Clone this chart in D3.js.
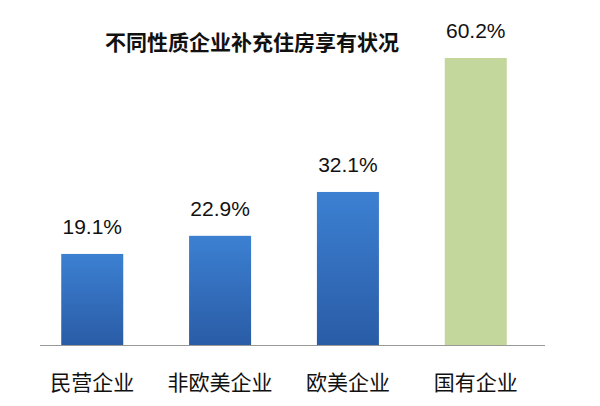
<!DOCTYPE html><html><head><meta charset="utf-8"><script src="https://cdn.jsdelivr.net/npm/d3@7"></script>
<style>body{margin:0;background:#fff}</style></head><body><svg width="600" height="406"></svg><script>
const categories=["民营企业","非欧美企业","欧美企业","国有企业"];
const values=[19.1,22.9,32.1,60.2];
const title="不同性质企业补充住房享有状况";
const svg=d3.select("svg");
const defs=svg.append("defs");
const g=defs.append("linearGradient").attr("id","bl").attr("x1",0).attr("x2",0).attr("y1",0).attr("y2",1);
g.append("stop").attr("offset","0%").attr("stop-color","#3c80d2");
g.append("stop").attr("offset","100%").attr("stop-color","#2a5ca6");
const x=d3.scaleBand().domain(categories).range([28,540]).paddingInner(0.515).paddingOuter(0.26);
const y=d3.scaleLinear().domain([0,60.2]).range([345,58]);
svg.selectAll("rect").data(values).join("rect")
 .attr("x",(d,i)=>x(categories[i])).attr("width",x.bandwidth())
 .attr("y",d=>y(d)).attr("height",d=>345-y(d))
 .attr("fill",(d,i)=>i==3?"#c3d69b":"url(#bl)");
svg.append("line").attr("x1",40).attr("x2",545).attr("y1",345.5).attr("y2",345.5).attr("stroke","#999");
svg.selectAll(".v").data(values).join("text").attr("text-anchor","middle")
 .attr("x",(d,i)=>x(categories[i])+x.bandwidth()/2).attr("y",d=>y(d)-20)
 .attr("font-family","Liberation Sans, Arial").attr("font-size",21).attr("fill","#111").text(d=>d.toFixed(1)+"%");
svg.append("g").attr("transform","translate(0,345)").call(d3.axisBottom(x).tickSize(0).tickPadding(30))
 .call(a=>a.select(".domain").remove())
 .selectAll("text").attr("font-family","Noto Sans CJK SC").attr("font-size",21).attr("fill","#111");
svg.append("text").attr("x",252).attr("y",50).attr("text-anchor","middle").attr("font-family","Noto Sans CJK SC")
 .attr("font-weight","bold").attr("font-size",21).attr("fill","#111").text(title);
</script></body></html>
